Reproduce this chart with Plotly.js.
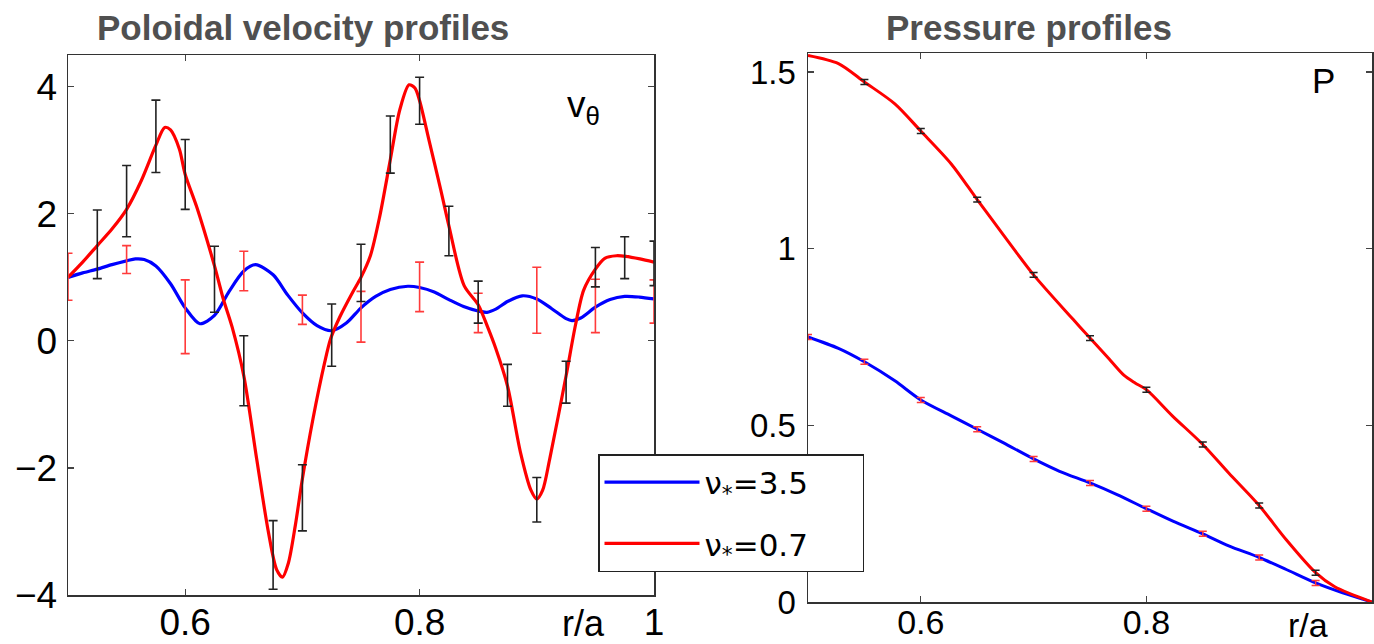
<!DOCTYPE html>
<html>
<head>
<meta charset="utf-8">
<script src="https://cdn.plot.ly/plotly-3.0.1.min.js"></script>
<style>html,body{margin:0;padding:0;background:#fff;}#chart{width:1374px;height:644px;}</style>
</head>
<body>
<div id="chart"></div>
<script>
// ---------- Poloidal velocity profiles (left panel) ----------
const r_vel_blue = [0.5, 0.5125, 0.525, 0.5375, 0.55, 0.5575, 0.565, 0.575, 0.5875, 0.6, 0.6125, 0.625, 0.6375, 0.65, 0.66, 0.675, 0.6875, 0.7, 0.7125, 0.725, 0.7375, 0.75, 0.7625, 0.775, 0.79, 0.8, 0.8125, 0.825, 0.8375, 0.85, 0.8575, 0.865, 0.875, 0.8875, 0.9, 0.9125, 0.925, 0.93, 0.9375, 0.95, 0.9625, 0.975, 0.9875, 1.0];
const v_blue = [1.00, 1.07, 1.13, 1.20, 1.26, 1.29, 1.28, 1.18, 0.90, 0.52, 0.27, 0.40, 0.78, 1.10, 1.20, 1.04, 0.72, 0.44, 0.24, 0.16, 0.28, 0.52, 0.70, 0.81, 0.86, 0.84, 0.77, 0.65, 0.54, 0.47, 0.45, 0.50, 0.62, 0.71, 0.66, 0.51, 0.35, 0.32, 0.36, 0.53, 0.65, 0.70, 0.69, 0.66];

const r_vel_red = [0.5, 0.5125, 0.525, 0.5375, 0.55, 0.5625, 0.575, 0.5825, 0.5875, 0.595, 0.6, 0.61, 0.625, 0.6325, 0.64, 0.65, 0.661, 0.671, 0.678, 0.683, 0.688, 0.694, 0.7, 0.709, 0.719, 0.724, 0.732, 0.743, 0.75, 0.758, 0.766, 0.775, 0.783, 0.791, 0.796, 0.8, 0.808, 0.818, 0.825, 0.838, 0.85, 0.858, 0.865, 0.875, 0.886, 0.895, 0.9, 0.905, 0.911, 0.925, 0.933, 0.94, 0.95, 0.958, 0.968, 0.976, 0.988, 1.0];
const v_red = [1.00, 1.24, 1.50, 1.76, 2.07, 2.52, 3.08, 3.36, 3.32, 3.02, 2.62, 2.10, 1.18, 0.66, 0.22, -0.55, -1.86, -3.01, -3.60, -3.72, -3.50, -2.90, -2.17, -1.23, -0.34, 0.03, 0.38, 0.77, 1.00, 1.34, 1.96, 2.85, 3.63, 4.03, 3.98, 3.78, 3.16, 2.38, 1.81, 0.87, 0.57, 0.22, -0.12, -0.71, -1.75, -2.35, -2.49, -2.35, -1.86, -0.55, 0.25, 0.80, 1.13, 1.30, 1.34, 1.33, 1.29, 1.24];

// error bars: black (nu*=0.7 data), red (nu*=3.5 data)
const r_err_black = [0.525, 0.55, 0.575, 0.6, 0.625, 0.65, 0.675, 0.7, 0.725, 0.75, 0.775, 0.8, 0.825, 0.85, 0.875, 0.9, 0.925, 0.95, 0.975, 1.0];
const v_err_black = [1.52, 2.20, 3.22, 2.62, 0.97, -0.47, -3.37, -2.47, 0.09, 1.07, 3.09, 3.78, 1.73, 0.61, -0.70, -2.50, -0.65, 1.16, 1.31, 1.22];
const e_err_black = [0.54, 0.56, 0.57, 0.55, 0.52, 0.55, 0.54, 0.52, 0.49, 0.45, 0.45, 0.37, 0.39, 0.33, 0.33, 0.35, 0.33, 0.31, 0.33, 0.35];

const r_err_red = [0.5, 0.55, 0.6, 0.65, 0.7, 0.75, 0.8, 0.85, 0.9, 0.95, 1.0];
const v_err_red = [1.01, 1.28, 0.38, 1.10, 0.49, 0.38, 0.85, 0.44, 0.64, 0.55, 0.62];
const e_err_red = [0.37, 0.22, 0.58, 0.31, 0.23, 0.40, 0.39, 0.31, 0.52, 0.42, 0.34];

// ---------- Pressure profiles (right panel) ----------
const r_p_blue = [0.5, 0.527, 0.55, 0.577, 0.6, 0.627, 0.65, 0.673, 0.7, 0.723, 0.75, 0.774, 0.8, 0.824, 0.85, 0.873, 0.9, 0.924, 0.95, 0.974, 1.0];
const p_blue = [0.750, 0.718, 0.680, 0.626, 0.572, 0.527, 0.489, 0.451, 0.405, 0.370, 0.337, 0.304, 0.264, 0.228, 0.193, 0.159, 0.126, 0.092, 0.054, 0.026, 0.0];

const r_p_red = [0.5, 0.527, 0.55, 0.577, 0.6, 0.627, 0.65, 0.673, 0.7, 0.735, 0.75, 0.765, 0.78, 0.79, 0.8, 0.823, 0.85, 0.873, 0.9, 0.924, 0.95, 0.967, 1.0];
const p_red = [1.547, 1.524, 1.472, 1.41, 1.333, 1.24, 1.139, 1.04, 0.926, 0.80, 0.747, 0.695, 0.642, 0.620, 0.601, 0.527, 0.446, 0.365, 0.273, 0.176, 0.083, 0.043, 0.0];

const r_perr_black = [0.55, 0.6, 0.65, 0.7, 0.75, 0.8, 0.85, 0.9, 0.95];
const p_perr_black = [1.472, 1.333, 1.139, 0.926, 0.747, 0.601, 0.446, 0.273, 0.083];
const r_perr_red = [0.5, 0.55, 0.6, 0.65, 0.7, 0.75, 0.8, 0.85, 0.9, 0.95];
const p_perr_red = [0.750, 0.680, 0.572, 0.489, 0.405, 0.337, 0.264, 0.193, 0.126, 0.054];
const p_err_size = 0.007;

// ---------- labels ----------
const legendNames = ['\u03bd<sub>*</sub>=3.5', '\u03bd<sub>*</sub>=0.7'];
const titleLeft = 'Poloidal velocity profiles';
const titleRight = 'Pressure profiles';

const BLUE = '#0000ff', RED = '#ff0000', EBLACK = '#222222', ERED = '#ff3b3b';
const FONT = 'Liberation Sans, Arial, Helvetica, sans-serif';
const LFONT = 'DejaVu Sans, Liberation Sans, sans-serif';
const W = 1374, H = 644;
const px = v => v / W, py = v => 1 - v / H;
const PAD = '\u00a0\u00a0\u00a0\u00a0\u00a0';

function errTrace(x, y, err, color, xa, ya, thick, w) {
  return {
    x: x, y: y, type: 'scatter', mode: 'markers', xaxis: xa, yaxis: ya,
    marker: {size: 1, color: 'rgba(0,0,0,0)'}, showlegend: false, hoverinfo: 'skip',
    error_y: {type: 'data', array: err, visible: true, color: color, thickness: thick, width: w}
  };
}

const traces = [
  {x: r_vel_blue, y: v_blue, type: 'scatter', mode: 'lines', name: legendNames[0] + PAD, legendgroup: 'a',
   line: {color: BLUE, width: 3.2, shape: 'spline', smoothing: 0.8}, xaxis: 'x', yaxis: 'y'},
  {x: r_vel_red, y: v_red, type: 'scatter', mode: 'lines', name: legendNames[1] + PAD, legendgroup: 'b',
   line: {color: RED, width: 3.2, shape: 'spline', smoothing: 0.8}, xaxis: 'x', yaxis: 'y'},
  errTrace(r_err_red, v_err_red, e_err_red, ERED, 'x', 'y', 1.6, 4.5),
  errTrace(r_err_black, v_err_black, e_err_black, EBLACK, 'x', 'y', 1.6, 4.5),
  {x: r_p_blue, y: p_blue, type: 'scatter', mode: 'lines', showlegend: false,
   line: {color: BLUE, width: 3, shape: 'spline', smoothing: 0.8}, xaxis: 'x2', yaxis: 'y2'},
  {x: r_p_red, y: p_red, type: 'scatter', mode: 'lines', showlegend: false,
   line: {color: RED, width: 3, shape: 'spline', smoothing: 0.8}, xaxis: 'x2', yaxis: 'y2'},
  errTrace(r_perr_red, p_perr_red, r_perr_red.map(() => p_err_size), ERED, 'x2', 'y2', 1.5, 4),
  errTrace(r_perr_black, p_perr_black, r_perr_black.map(() => p_err_size), EBLACK, 'x2', 'y2', 1.5, 4)
];

const axCommon = {
  showgrid: false, zeroline: false, showline: true, linecolor: '#333', linewidth: 1.5,
  mirror: 'ticks', ticks: 'inside', ticklen: 6, tickwidth: 1.2, tickcolor: '#444',
  fixedrange: true, automargin: false, tickmode: 'array'
};

const layout = {
  width: W, height: H, margin: {l: 0, r: 0, t: 0, b: 0},
  paper_bgcolor: '#ffffff', plot_bgcolor: '#ffffff',
  font: {family: FONT, color: '#000'},
  showlegend: true,
  legend: {
    x: px(598), y: py(454), xanchor: 'left', yanchor: 'top',
    bgcolor: '#ffffff', bordercolor: '#222', borderwidth: 1.5,
    font: {family: LFONT, size: 31, color: '#000'},
    itemwidth: 95, traceorder: 'grouped', tracegroupgap: 18
  },
  xaxis: Object.assign({}, axCommon, {
    domain: [px(68), px(654)], range: [0.5, 1], anchor: 'y',
    tickvals: [0.6, 0.8, 1], ticktext: ['0.6', '0.8', '1'],
    tickfont: {family: FONT, size: 37, color: '#000'}, ticklabelstandoff: -6
  }),
  yaxis: Object.assign({}, axCommon, {
    domain: [py(595), py(55)], range: [-4, 4.5], anchor: 'x',
    tickvals: [-4, -2, 0, 2, 4],
    tickfont: {family: FONT, size: 37, color: '#000'}, ticklabelstandoff: 2
  }),
  xaxis2: Object.assign({}, axCommon, {
    domain: [px(808), px(1372)], range: [0.5, 1], anchor: 'y2',
    tickvals: [0.6, 0.8, 1], ticktext: ['0.6', '0.8', '1'],
    tickfont: {family: FONT, size: 34, color: '#000'}, ticklabelstandoff: -10
  }),
  yaxis2: Object.assign({}, axCommon, {
    domain: [py(602), py(53)], range: [0, 1.554], anchor: 'x2',
    tickvals: [0, 0.5, 1, 1.5], ticktext: ['0', '0.5', '1', '1.5'],
    tickfont: {family: FONT, size: 33, color: '#000'}, ticklabelstandoff: 4
  }),
  annotations: [
    {text: '<b>' + titleLeft + '</b>', x: px(303), y: py(28), xref: 'paper', yref: 'paper',
     showarrow: false, xanchor: 'center', yanchor: 'middle', font: {family: FONT, size: 35, color: '#505050'}},
    {text: '<b>' + titleRight + '</b>', x: px(1029), y: py(28), xref: 'paper', yref: 'paper',
     showarrow: false, xanchor: 'center', yanchor: 'middle', font: {family: FONT, size: 35, color: '#505050'}},
    {text: 'v<sub>\u03b8</sub>', x: px(565), y: py(82), xref: 'paper', yref: 'paper',
     showarrow: false, xanchor: 'left', yanchor: 'top', font: {family: FONT, size: 37, color: '#000'}},
    {text: 'P', x: px(1323), y: py(81), xref: 'paper', yref: 'paper',
     showarrow: false, xanchor: 'center', yanchor: 'middle', font: {family: FONT, size: 35, color: '#000'}},
    {text: 'r/a', x: px(583), y: py(623), xref: 'paper', yref: 'paper',
     showarrow: false, xanchor: 'center', yanchor: 'middle', font: {family: FONT, size: 36, color: '#000'}},
    {text: 'r/a', x: px(1308), y: py(625), xref: 'paper', yref: 'paper',
     showarrow: false, xanchor: 'center', yanchor: 'middle', font: {family: FONT, size: 34, color: '#000'}}
  ]
};

Plotly.newPlot('chart', traces, layout, {staticPlot: true, displayModeBar: false});
</script>
</body>
</html>
